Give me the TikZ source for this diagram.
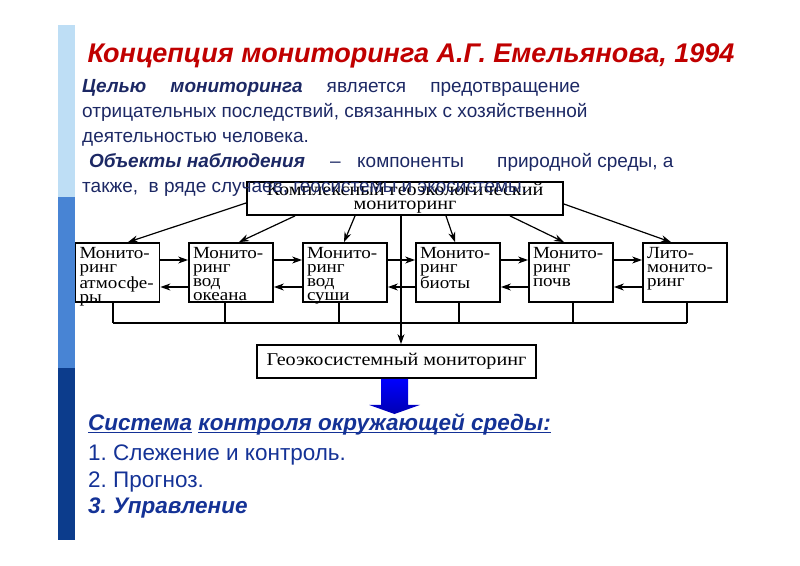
\documentclass[tikz,border=0pt]{standalone}
\usepackage{fontspec}
\setmainfont{Liberation Sans}
\newfontfamily\schemefont[FakeStretch=1.12]{Liberation Serif}
\usetikzlibrary{arrows.meta}

\definecolor{titlered}{RGB}{192,0,0}
\definecolor{textblue}{RGB}{28,40,100}
\definecolor{listblue}{RGB}{20,50,150}
\definecolor{barlight}{RGB}{190,222,245}
\definecolor{barmid}{RGB}{72,132,212}
\definecolor{bardark}{RGB}{12,60,140}
\definecolor{arrowblue}{RGB}{0,0,255}

\tikzset{
  mbox/.style={draw, line width=1.8pt, fill=white, inner sep=0pt,
    font=\schemefont\fontsize{18}{14}\selectfont},
  unit/.style={mbox, text width=76pt, align=left, text height=12pt,
    text depth=41pt, inner xsep=4pt, inner ysep=3pt,
    font=\schemefont\fontsize{17}{14.2}\selectfont},
  link/.style={line width=1.2pt, -{Stealth[length=10pt,width=7pt]}},
  wire/.style={line width=1.2pt},
  txt/.style={anchor=base west, inner sep=0pt, text=textblue,
    font=\fontsize{19}{22}\selectfont},
  lst/.style={anchor=base west, inner sep=0pt, text=listblue,
    font=\fontsize{22.5}{26}\selectfont},
}

\begin{document}
\frenchspacing
\begin{tikzpicture}[x=1pt,y=-1pt]
\useasboundingbox (0,0) rectangle (800,565);
% side bar
\fill[barlight] (58,25) rectangle (75,197);
\fill[barmid] (58,197) rectangle (75,368);
\fill[bardark] (58,368) rectangle (75,540);

\node[anchor=base, inner sep=0pt, text=titlered,
  font=\bfseries\itshape\fontsize{27}{30}\selectfont] (title) at (411,62)
  {Концепция мониторинга А.Г. Емельянова, 1994};

% scheme
\node[mbox, minimum width=316pt, minimum height=33pt, align=center] (top) at (405,198.5)
  {Комплексный геоэкологический\\мониторинг};
\foreach \i/\x/\t in {1/117.5/{Монито-\\ринг\\атмосфе-\\ры},
                      2/231/{Монито-\\ринг\\вод\\океана},
                      3/345/{Монито-\\ринг\\вод\\суши},
                      4/458/{Монито-\\ринг\\биоты},
                      5/571/{Монито-\\ринг\\почв},
                      6/685/{Лито-\\монито-\\ринг}}
  \node[unit] (m\i) at (\x,272.5) {\t};
\node[mbox, minimum width=279pt, minimum height=33pt] (geo) at (396.5,361.5)
  {Геоэкосистемный мониторинг};

\draw[link] ([yshift=-4.5pt]top.west) -- ([xshift=10.5pt]m1.north);
\draw[link] ([xshift=-110pt]top.south) -- ([xshift=8pt]m2.north);
\draw[link] ([xshift=-50pt]top.south) -- ([xshift=-1pt]m3.north);
\draw[link] ([xshift=41pt]top.south) -- ([xshift=-3pt]m4.north);
\draw[link] ([xshift=105pt]top.south) -- ([xshift=-7pt]m5.north);
\draw[link] ([yshift=-5.5pt]top.east) -- ([xshift=-14pt]m6.north);

\foreach \i [count=\j from 2] in {1,...,5}{
  \draw[link] ([yshift=12.5pt]m\i.east) -- ([yshift=12.5pt]m\j.west);
  \draw[link] ([yshift=-14.5pt]m\j.west) -- ([yshift=-14.5pt]m\i.east);
}
\foreach \i/\dx in {1/-4.5,2/-6,3/-6,4/1,5/2,6/2}
  \draw[wire] ([xshift=\dx pt]m\i.south) -- ++(0,20);
\draw[wire] ([xshift=-4.5pt,yshift=-20pt]m1.south) -- ([xshift=2pt,yshift=-20pt]m6.south);
\draw[link] ([xshift=-4pt]top.south) -- ([xshift=4.5pt]geo.north);

\coordinate (tip) at (394.5,414);
\shade[top color=arrowblue, bottom color=arrowblue!70!black]
  ([xshift=-15.5pt]geo.south) -- ++(0,26) -- ++(-12,0) -- (tip)
  -- ([xshift=23.5pt,yshift=-26pt]geo.south) -- ++(-12,0) -- ([xshift=11.5pt]geo.south) -- cycle;

% text
\node[txt] (l1) at (82,92) {\makebox[498pt][s]{\textbf{\textit{Целью}} \textbf{\textit{мониторинга}} является предотвращение}};
\node[txt] (l2) at (82,117) {отрицательных последствий, связанных с хозяйственной};
\node[txt] (l3) at (82,142) {деятельностью человека.};
\node[txt, font=\bfseries\itshape\fontsize{19}{22}\selectfont] (obj) at (89,167) {Объекты наблюдения};
\node[txt] (dash) at (330,167) {–};
\node[txt] (comp) at (357,167) {компоненты};
\node[txt] (nat) at (497,167) {природной среды, а};
\node[txt] (l5) at (82,192) {также,\ \ в ряде случаев, геосистемы и экосистемы.};

\node[lst, font=\bfseries\itshape\fontsize{22.5}{26}\selectfont] (sys1) at (88,430) {Система};
\node[lst, font=\bfseries\itshape\fontsize{22.5}{26}\selectfont, anchor=base west] (sys2) at ([xshift=6pt]sys1.base east) {контроля окружающей среды:};
\draw[listblue, line width=1.3pt] ([yshift=-2.5pt]sys1.base west) -- ([yshift=-2.5pt]sys1.base east);
\draw[listblue, line width=1.3pt] ([yshift=-2.5pt]sys2.base west) -- ([yshift=-2.5pt]sys2.base east);
\node[lst] (p1) at (88,460) {1. Слежение и контроль.};
\node[lst] (p2) at (88,487) {2. Прогноз.};
\node[lst, font=\bfseries\itshape\fontsize{22.5}{26}\selectfont] (p3) at (88,513) {3. Управление};
\end{tikzpicture}
\end{document}
